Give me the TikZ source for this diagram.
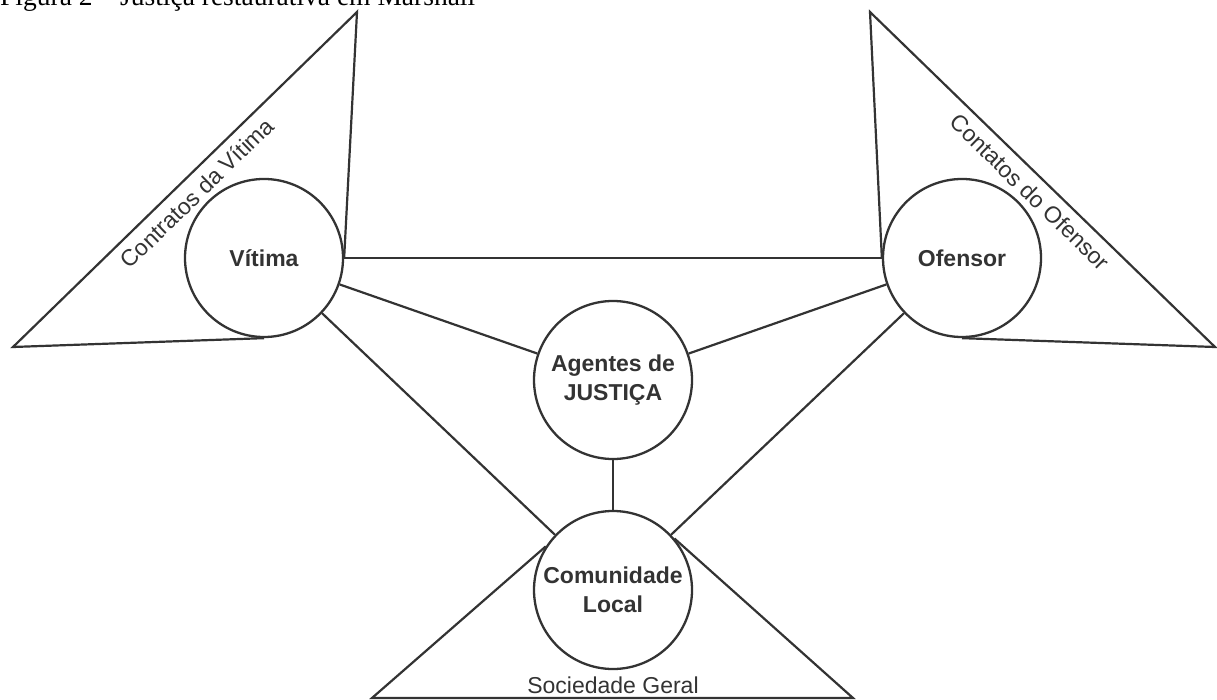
\documentclass[tikz,border=0pt]{standalone}
\usepackage{fontspec}
\setmainfont{Liberation Serif}
\newfontfamily\arialfont{Liberation Sans}
\usetikzlibrary{backgrounds}
\definecolor{linha}{HTML}{333333}
\tikzset{
  circulo/.style={circle,draw=linha,line width=2.3pt,fill=white,minimum size=158pt,inner sep=0pt,align=center,text=linha,font=\arialfont\bfseries\fontsize{23}{29}\selectfont},
  ligacao/.style={draw=linha,line width=2.2pt},
  rotulo/.style={text=linha,inner sep=0pt,font=\arialfont\fontsize{23}{27}\selectfont}
}
\begin{document}
\begin{tikzpicture}[x=1pt,y=-1pt]
  \useasboundingbox (0,0) rectangle (1217,700);
  \node[anchor=base west,inner sep=0pt,font=\fontsize{27.5}{32}\selectfont] (titulo) at (0,6) {Figura 2 -- Justiça restaurativa em Marshall};
  % circulos
  \node[circulo] (vit) at (264,258) {Vítima};
  \node[circulo] (ofe) at (962,258) {Ofensor};
  \node[circulo] (agj) at (613,380) {Agentes de\\JUSTIÇA};
  \node[circulo] (com) at (613,590) {Comunidade\\Local};
  \foreach \a/\b in {vit/ofe,vit/agj,ofe/agj,vit/com,ofe/com,agj/com}
    \draw[ligacao] (\a) -- (\b);
  % triangulos
  \coordinate (tv1) at (357,12);
  \coordinate (tv2) at (13,347);
  \coordinate (to1) at (870,12);
  \coordinate (to2) at (1215,347);
  \coordinate (ts1) at (372,698);
  \coordinate (ts2) at (853,698);
  \begin{scope}[on background layer]
    \draw[ligacao] (vit.south) -- (tv2) -- (tv1) -- (vit.east);
    \draw[ligacao] (ofe.south) -- (to2) -- (to1) -- (ofe.west);
    \draw[ligacao] (com.147) -- (ts1) -- (ts2) -- (com.40);
  \end{scope}
  \node[rotulo,rotate=44.2] (cvit) at (197,193) {Contratos da Vítima};
  \node[rotulo,rotate=-44.2] (cofe) at (1030,192) {Contatos do Ofensor};
  \node[rotulo] (soc) at (613,685) {Sociedade Geral};
\end{tikzpicture}
\end{document}
